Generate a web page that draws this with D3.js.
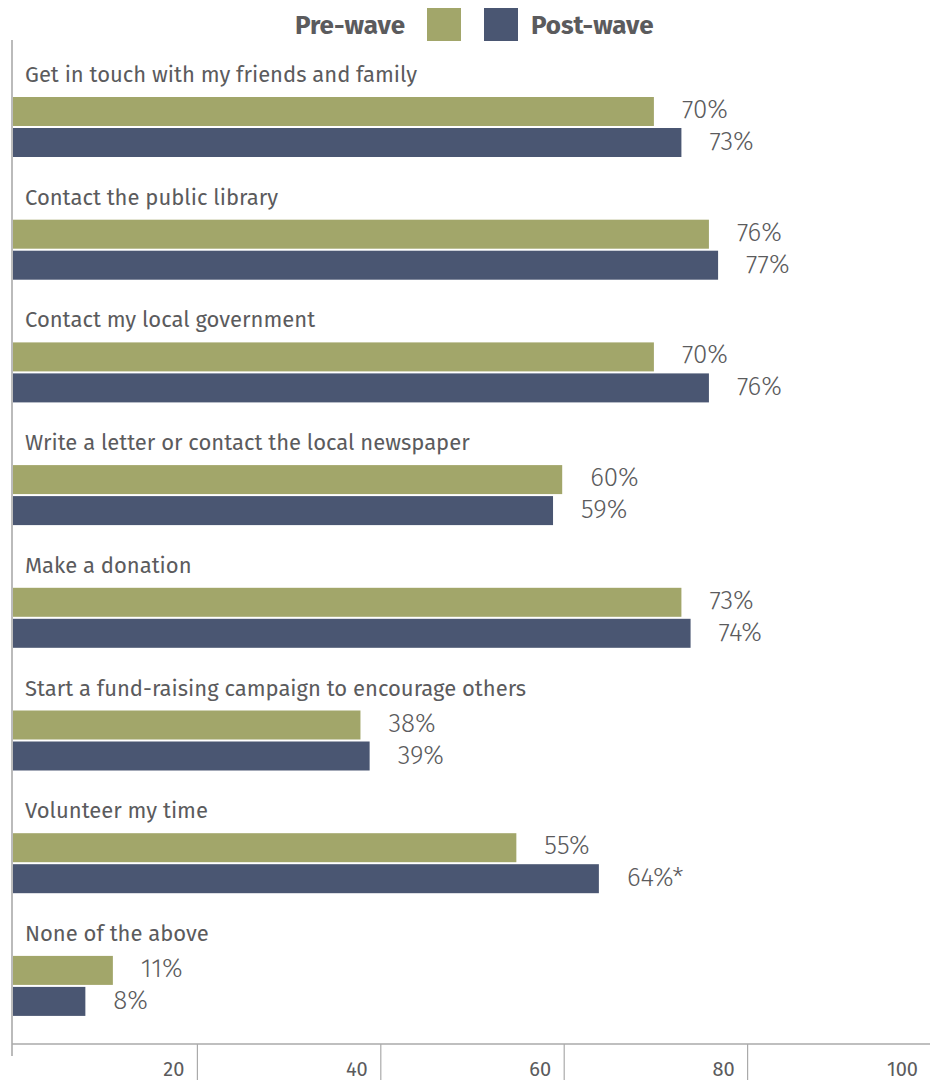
<!DOCTYPE html>
<html><head><meta charset="utf-8">
<script src="https://cdn.jsdelivr.net/npm/d3@7"></script>
<style>body{margin:0;background:#fff;} svg{display:block;}</style>
</head><body>
<svg id="c" width="930" height="1080"></svg>
<script>
const categories = ["Get in touch with my friends and family","Contact the public library","Contact my local government","Write a letter or contact the local newspaper","Make a donation","Start a fund-raising campaign to encourage others","Volunteer my time","None of the above"];
const preWave = [70,76,70,60,73,38,55,11];
const postWave = [73,77,76,59,74,39,64,8];
const postLabels = ["73%","77%","76%","59%","74%","39%","64%*","8%"];
const preLabels = preWave.map(v=>v+"%");
const seriesNames = ["Pre-wave","Post-wave"];
const colors = ["#a2a66a","#4a5672"];
const ticks = [20,40,60,80,100];

const svg = d3.select("#c");
const font = "'Fira Sans', Lato, 'Open Sans', sans-serif";
const x = d3.scaleLinear().domain([0,100]).range([12,929]);
const y = d3.scaleBand().domain(categories).range([58, 58+8*122.7]).padding(0);

// legend
const lg = svg.append("g").attr("font-family",font).attr("font-weight","bold").attr("font-size",26).attr("fill","#5b5b5d");
lg.append("text").attr("x",405).attr("y",34).attr("text-anchor","end").text(seriesNames[0]);
lg.append("rect").attr("x",427).attr("y",8).attr("width",34).attr("height",33).attr("fill",colors[0]);
lg.append("rect").attr("x",484).attr("y",8).attr("width",34).attr("height",33).attr("fill",colors[1]);
lg.append("text").attr("x",531).attr("y",34).text(seriesNames[1]);

const g = svg.append("g").selectAll("g").data(categories).join("g")
  .attr("transform",d=>`translate(0,${y(d)})`);
g.append("text").attr("x",25).attr("y",24).attr("font-family",font).attr("font-size",22).attr("fill","#5b5b5d").text(d=>d);
g.append("rect").attr("x",x(0)).attr("y",39).attr("height",29).attr("width",(d,i)=>x(preWave[i])-x(0)).attr("fill",colors[0]);
g.append("rect").attr("x",x(0)).attr("y",70).attr("height",29).attr("width",(d,i)=>x(postWave[i])-x(0)).attr("fill",colors[1]);
g.append("text").attr("x",(d,i)=>x(preWave[i])+28).attr("y",60).attr("font-family",font).attr("font-weight",300).attr("font-size",26).attr("fill","#5b5b5d").text((d,i)=>preLabels[i]);
g.append("text").attr("x",(d,i)=>x(postWave[i])+28).attr("y",92).attr("font-family",font).attr("font-weight",300).attr("font-size",26).attr("fill","#5b5b5d").text((d,i)=>postLabels[i]);

// axes
const axis = svg.append("g");
axis.append("line").attr("x1",12).attr("x2",12).attr("y1",40).attr("y2",1056).attr("stroke","#bbb").attr("stroke-width",2);
axis.append("line").attr("x1",12).attr("x2",930).attr("y1",1044).attr("y2",1044).attr("stroke","#aaa").attr("stroke-width",1.5);
axis.selectAll(".tk").data(ticks).join("line").attr("x1",d=>x(d)+2).attr("x2",d=>x(d)+2).attr("y1",1044).attr("y2",1080).attr("stroke","#aaa").attr("stroke-width",1.2);
axis.selectAll(".tl").data(ticks).join("text").attr("x",d=>x(d)-11).attr("y",1076).attr("text-anchor","end")
  .attr("font-family",font).attr("font-size",20).attr("fill","#5b5b5d").text(d=>d);
</script>
</body></html>
